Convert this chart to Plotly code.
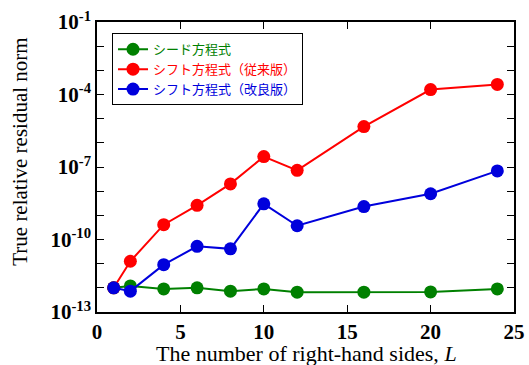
import plotly.graph_objects as go

L = [1, 2, 4, 6, 8, 10, 12, 16, 20, 24]
seed = [1.0e-12, 1.2e-12, 9.0e-13, 1.0e-12, 7.3e-13, 9.0e-13, 6.6e-13, 6.6e-13, 6.8e-13, 9.0e-13]
shift_old = [1.0e-12, 1.26e-11, 4.1e-10, 2.6e-9, 2.0e-8, 2.7e-7, 7.3e-8, 4.7e-6, 1.6e-4, 2.6e-4]
shift_new = [1.0e-12, 7.3e-13, 9.1e-12, 5.2e-11, 4.1e-11, 3.0e-9, 3.7e-10, 2.3e-9, 7.8e-9, 6.9e-8]

names = ["シード方程式", "シフト方程式（従来版）", "シフト方程式（改良版）"]
colors = ["rgb(0,128,0)", "rgb(255,0,0)", "rgb(0,0,220)"]

yexp = list(range(-13, 0))
ytickvals = [10.0 ** e for e in yexp]
yticktext = [f"<b>10<sup>{e}</sup></b>" if (e + 13) % 3 == 0 else "" for e in yexp]
xtickvals = [0, 5, 10, 15, 20, 25]

fig = go.Figure()
for ys, nm, c in [(seed, names[0], colors[0]), (shift_old, names[1], colors[1]), (shift_new, names[2], colors[2])]:
    fig.add_trace(go.Scatter(
        x=L, y=ys, mode="lines+markers",
        name=f"<span style='color:{c}'>{nm}</span>",
        line=dict(color=c, width=2),
        marker=dict(color=c, size=13),
    ))

fig.update_layout(
    width=529, height=365,
    margin=dict(l=97, r=15, t=22, b=53),
    plot_bgcolor="white", paper_bgcolor="white",
    showlegend=True,
    legend=dict(
        x=0.036, y=0.961, xanchor="left", yanchor="top",
        bordercolor="black", borderwidth=1, bgcolor="white",
        font=dict(family="Noto Sans CJK JP", size=13),
        tracegroupgap=0,
    ),
    xaxis=dict(
        range=[0, 25], tickvals=xtickvals, ticktext=[f"<b>{v}</b>" for v in xtickvals],
        ticks="inside", ticklen=7, tickwidth=1.2, tickcolor="black",
        showline=True, linecolor="black", linewidth=1.5, mirror="ticks",
        showgrid=False, zeroline=False, automargin=False,
        tickfont=dict(family="Liberation Serif", size=21, color="black"),
    ),
    yaxis=dict(
        type="log", range=[-13, -1], tickvals=ytickvals, ticktext=yticktext,
        ticks="inside", ticklen=7, tickwidth=1.2, tickcolor="black",
        showline=True, linecolor="black", linewidth=1.5, mirror="ticks",
        showgrid=False, zeroline=False, automargin=False,
        tickfont=dict(family="Liberation Serif", size=21, color="black"),
    ),
    annotations=[
        dict(
            text="True relative residual norm", textangle=-90,
            xref="paper", yref="paper", x=-0.185, y=0.552,
            xanchor="center", yanchor="middle", showarrow=False,
            font=dict(family="Liberation Serif", size=21, color="black"),
        ),
        dict(
            text="The number of right-hand sides, <i>L</i>",
            xref="paper", yref="paper", x=0.502, y=-0.143,
            xanchor="center", yanchor="middle", showarrow=False,
            font=dict(family="Liberation Serif", size=22, color="black"),
        ),
    ],
)

fig.write_html("out.html")
